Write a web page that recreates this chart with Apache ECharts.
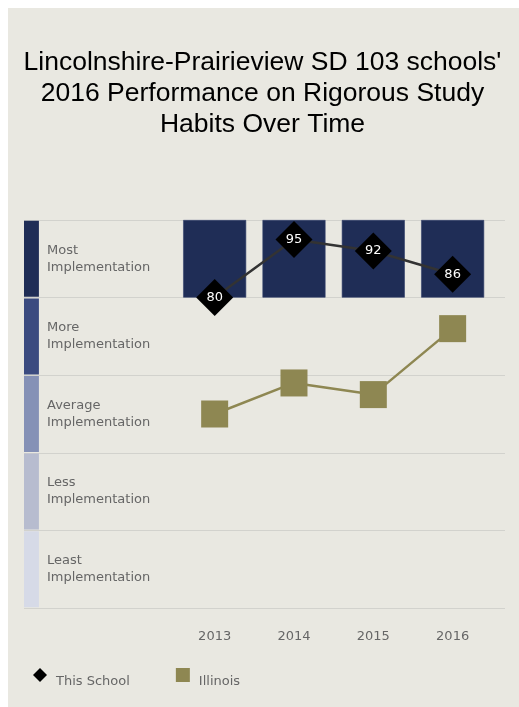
<!DOCTYPE html>
<html><head><meta charset="utf-8">
<script src="https://cdn.jsdelivr.net/npm/echarts@6/dist/echarts.min.js"></script>
<style>html,body{margin:0;padding:0;background:#fff;overflow:hidden}#c{position:absolute;left:8px;top:8px;width:519px;height:707px}</style>
</head><body><div id="c"></div><script>
const years = ['2013', '2014', '2015', '2016'];
const bands = ['Least Implementation', 'Less Implementation', 'Average Implementation', 'More Implementation', 'Most Implementation'];
const bandColors = ['#d6dae7', '#b7bccf', '#8591b6', '#3b4b80', '#1f2d56'];
const bandStrip = [3.1, 3.1, 3.1, 3.1, 3.1];
const thisSchool = [80, 95, 92, 86];
const illinois = [50, 58, 55, 72];
const schoolBandLow = [80, 80, 80, 80];
const schoolBandHigh = [100, 100, 100, 100];

const FONT = 'DejaVu Sans';
const chart = echarts.init(document.getElementById('c'), null, {renderer: 'canvas'});
chart.setOption({
  backgroundColor: '#e9e8e1',
  animation: false,
  title: {
    text: "Lincolnshire-Prairieview SD 103 schools'\n2016 Performance on Rigorous Study\nHabits Over Time",
    left: 254.5,
    top: 39,
    padding: 0,
    textAlign: 'center',
    textStyle: {fontFamily: 'Liberation Sans', fontSize: 26.5, fontWeight: 'normal', color: '#000', lineHeight: 31}
  },
  legend: {
    left: 20, top: 655,
    itemWidth: 14, itemHeight: 14, itemGap: 46,
    formatter: n => '{a|' + n + '}',
    textStyle: {fontFamily: FONT, fontSize: 13, color: '#666',
      rich: {a: {fontFamily: FONT, fontSize: 13, color: '#666', padding: [14, 0, 0, 4]}}},
    data: [
      {name: 'This School', icon: 'diamond', itemStyle: {color: '#000'}},
      {name: 'Illinois', icon: 'rect', itemStyle: {color: '#8e8752'}}
    ]
  },
  grid: [
    {left: 16, right: 22, top: 212, bottom: 107},
    {left: 167, right: 34.7, top: 212, bottom: 107}
  ],
  xAxis: [
    {gridIndex: 0, type: 'value', min: 0, max: 100, show: false},
    {gridIndex: 1, type: 'category', data: years,
      axisLine: {show: false}, axisTick: {show: false},
      axisLabel: {fontFamily: FONT, fontSize: 13, color: '#666', margin: 22}}
  ],
  yAxis: [
    {gridIndex: 0, type: 'category', data: bands,
      axisLine: {show: false}, axisTick: {show: false},
      axisLabel: {inside: true, margin: 23, fontFamily: FONT, fontSize: 13, color: '#666', lineHeight: 17,
        formatter: v => v.replace(' ', '\n')},
      splitLine: {show: true, lineStyle: {color: '#d2d2cd', width: 1}}},
    {gridIndex: 1, type: 'value', min: 0, max: 100, show: false}
  ],
  series: [
    {type: 'bar', xAxisIndex: 0, yAxisIndex: 0, silent: true, barCategoryGap: '2%',
      data: bandStrip.map((v, i) => ({value: v, itemStyle: {color: bandColors[i]}}))},
    {type: 'bar', name: 'base', xAxisIndex: 1, yAxisIndex: 1, stack: 'band', barWidth: 63, silent: true,
      itemStyle: {color: 'rgba(0,0,0,0)'}, data: schoolBandLow},
    {type: 'bar', name: 'band', xAxisIndex: 1, yAxisIndex: 1, stack: 'band', barWidth: 63, silent: true,
      itemStyle: {color: '#1f2d56', borderColor: '#34426c', borderWidth: 0.6},
      data: schoolBandHigh.map((v, i) => v - schoolBandLow[i])},
    {type: 'line', name: 'Illinois', xAxisIndex: 1, yAxisIndex: 1, data: illinois,
      symbol: 'rect', symbolSize: 27, itemStyle: {color: '#8e8752'},
      lineStyle: {color: '#8e8752', width: 2.5}, z: 4},
    {type: 'line', name: 'This School', xAxisIndex: 1, yAxisIndex: 1, data: thisSchool,
      symbol: 'diamond', symbolSize: 37, itemStyle: {color: '#000'},
      lineStyle: {color: '#333', width: 2.5}, z: 5,
      label: {show: true, position: 'inside', color: '#fff', fontFamily: FONT, fontSize: 13}}
  ]
});
</script></body></html>
